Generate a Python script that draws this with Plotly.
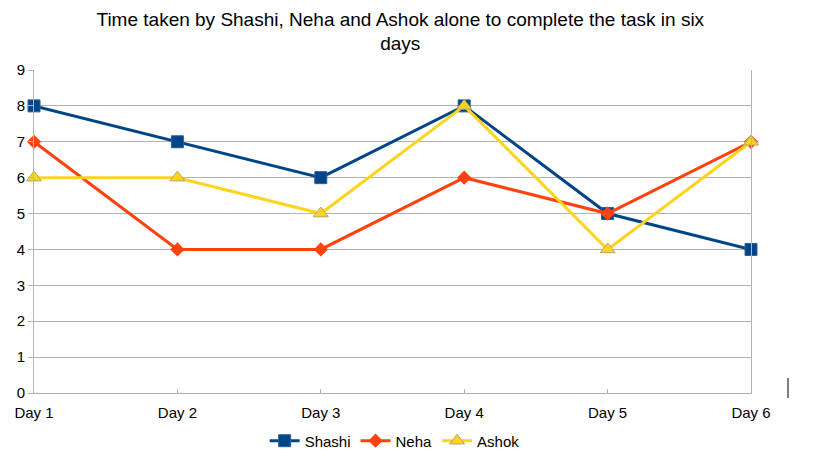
import plotly.graph_objects as go

days = ["Day 1", "Day 2", "Day 3", "Day 4", "Day 5", "Day 6"]
shashi = [8, 7, 6, 8, 5, 4]
neha = [7, 4, 4, 6, 5, 7]
ashok = [6, 6, 5, 8, 4, 7]

fig = go.Figure()
fig.add_trace(go.Scatter(x=days, y=shashi, name="Shashi", mode="lines+markers",
                         cliponaxis=False,
                         line=dict(color="#004586", width=3),
                         marker=dict(symbol="square", size=12, color="#004586",
                                     line=dict(color="#2a5fa0", width=1))))
fig.add_trace(go.Scatter(x=days, y=neha, name="Neha", mode="lines+markers",
                         cliponaxis=False,
                         line=dict(color="#ff420e", width=3),
                         marker=dict(symbol="diamond", size=11, color="#ff420e")))
fig.add_trace(go.Scatter(x=days, y=ashok, name="Ashok", mode="lines+markers",
                         cliponaxis=False,
                         line=dict(color="#ffd320", width=3),
                         marker=dict(symbol="triangle-up", size=13, color="#ffd320",
                                     line=dict(color="#b3a66a", width=1))))

fig.update_layout(
    width=822, height=456,
    margin=dict(l=34, r=71, t=70, b=63, autoexpand=False),
    paper_bgcolor="white", plot_bgcolor="white",
    font=dict(family="Liberation Sans, Arial, sans-serif", size=15, color="black"),
    title=dict(text="Time taken by Shashi, Neha and Ashok alone to complete the task in six<br>days",
               x=0.487, xanchor="center", y=0.944, yanchor="middle",
               font=dict(size=19, color="black")),
    showlegend=True,
    legend=dict(orientation="h", x=0.503, xanchor="center", yref="container",
                y=0.033, yanchor="middle", font=dict(size=15)),
    shapes=[dict(type="line", xref="paper", yref="paper", x0=1.0516, x1=1.0516,
                 y0=0.0464, y1=-0.0155, line=dict(color="black", width=1))],
)
fig.update_xaxes(range=[0, 5], showgrid=False, showline=True, linecolor="#b3b3b3",
                 linewidth=1, ticks="inside", ticklen=4, tickcolor="#b3b3b3",
                 tickfont=dict(size=15), zeroline=False, ticklabelstandoff=6)
fig.update_yaxes(range=[0, 9], dtick=1, showgrid=True, gridcolor="#b3b3b3",
                 showline=True, linecolor="#b3b3b3", mirror=True, ticks="outside",
                 ticklen=5, tickcolor="#b3b3b3", tickfont=dict(size=15),
                 zeroline=False)

fig.write_html("out.html")
